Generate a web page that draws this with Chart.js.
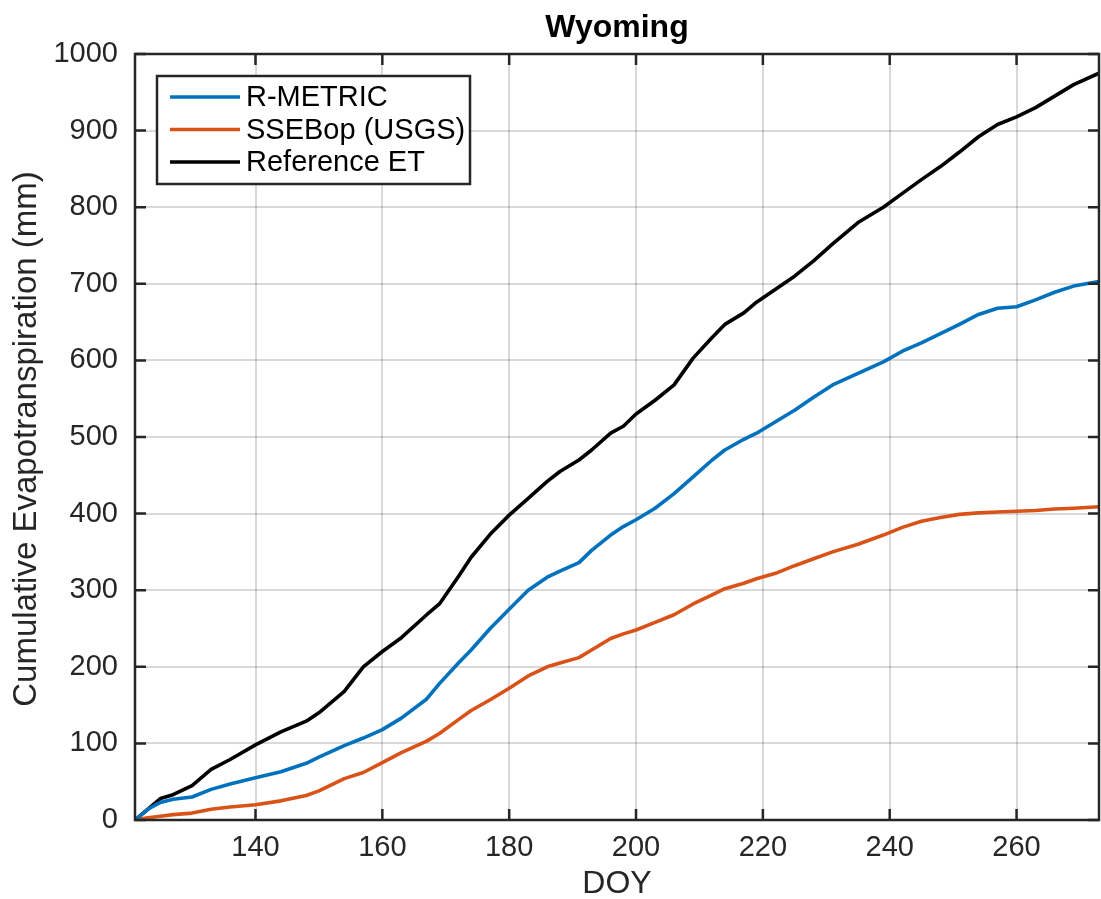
<!DOCTYPE html>
<html>
<head>
<meta charset="utf-8">
<title>Wyoming</title>
<script src="https://cdn.jsdelivr.net/npm/chart.js@4.4.1/dist/chart.umd.min.js"></script>
<style>
  body { margin: 0; background: #fff; }
  canvas { display: block; }
</style>
</head>
<body>
<canvas id="etChart" width="1101" height="899"></canvas>
<script>
const doy = [121, 123, 125, 127, 130, 133, 136, 140, 144, 148, 150, 154, 157, 160, 163, 167, 169, 172, 174, 177,
  180, 183, 186, 188, 191, 193, 196, 198, 200, 203, 206, 209, 212, 214, 217, 219, 222, 225, 228, 231,
  235, 239, 242, 245, 248, 251, 254, 257, 260, 263, 266, 269, 273];

const rMetric = [0, 14, 23, 27, 30, 40, 47, 55, 63, 74, 82, 97, 107, 118, 133, 158, 178, 205, 222, 250,
  275, 300, 317, 325, 336, 352, 372, 383, 392, 407, 426, 448, 470, 483, 497, 505, 520, 535, 552, 568,
  583, 598, 612, 623, 635, 647, 660, 668, 670, 679, 689, 697, 703];

const ssebop = [0, 3, 5, 7, 9, 14, 17, 20, 25, 32, 38, 54, 62, 75, 88, 103, 113, 131, 143, 157,
  172, 188, 200, 205, 212, 222, 237, 243, 248, 258, 268, 282, 294, 302, 309, 315, 322, 332, 341, 350,
  360, 372, 382, 390, 395, 399, 401, 402, 403, 404, 406, 407, 409];

const referenceET = [0, 14, 28, 33, 45, 66, 79, 98, 115, 129, 140, 168, 200, 220, 238, 268, 282, 318, 343, 373,
  398, 420, 442, 455, 470, 483, 505, 514, 530, 548, 568, 603, 630, 647, 662, 676, 693, 710, 730, 752,
  780, 800, 818, 836, 853, 872, 892, 908, 918, 930, 945, 960, 975];

const seriesNames = ["R-METRIC", "SSEBop (USGS)", "Reference ET"];
const xTicks = [140, 160, 180, 200, 220, 240, 260];
const yTicks = [0, 100, 200, 300, 400, 500, 600, 700, 800, 900, 1000];

const FONT = "'Liberation Sans', Arial, Helvetica, sans-serif";
const AXIS_COLOR = "#262626";

function points(ys) {
  return doy.map((d, i) => ({ x: d, y: ys[i] }));
}

// box, inward ticks, title, axis labels and legend drawn on top
const matlabLook = {
  id: "matlabLook",
  afterDraw(chart) {
    const c = chart.ctx;
    const a = chart.chartArea;
    const xs = chart.scales.x;
    const ys = chart.scales.y;
    c.save();

    c.strokeStyle = AXIS_COLOR;
    c.lineWidth = 2.5;
    c.beginPath();
    xTicks.forEach(t => {
      const px = xs.getPixelForValue(t);
      c.moveTo(px, a.bottom); c.lineTo(px, a.bottom - 11);
      c.moveTo(px, a.top); c.lineTo(px, a.top + 11);
    });
    yTicks.forEach(t => {
      const py = ys.getPixelForValue(t);
      c.moveTo(a.left, py); c.lineTo(a.left + 11, py);
      c.moveTo(a.right, py); c.lineTo(a.right - 11, py);
    });
    c.stroke();
    c.strokeRect(a.left, a.top, a.right - a.left, a.bottom - a.top);

    c.fillStyle = "#000";
    c.textAlign = "center";
    c.textBaseline = "middle";
    c.font = "bold 32px " + FONT;
    c.fillText("Wyoming", (a.left + a.right) / 2, 28);

    c.fillStyle = AXIS_COLOR;
    c.font = "32px " + FONT;
    c.fillText("DOY", (a.left + a.right) / 2, 884);
    c.font = "33px " + FONT;
    c.save();
    c.translate(27, (a.top + a.bottom) / 2 + 2);
    c.rotate(-Math.PI / 2);
    c.fillText("Cumulative Evapotranspiration (mm)", 0, 0);
    c.restore();

    // legend
    const lx = 157, ly = 76, lw = 313, lh = 108;
    c.fillStyle = "#fff";
    c.fillRect(lx, ly, lw, lh);
    c.strokeStyle = AXIS_COLOR;
    c.lineWidth = 2.5;
    c.strokeRect(lx, ly, lw, lh);
    c.textAlign = "left";
    c.font = "29px " + FONT;
    chart.data.datasets.forEach((ds, i) => {
      const rowY = 97 + i * 32.5;
      c.strokeStyle = ds.borderColor;
      c.lineWidth = 3.5;
      c.beginPath();
      c.moveTo(170, rowY); c.lineTo(240, rowY);
      c.stroke();
      c.fillStyle = "#000";
      c.fillText(ds.label, 246, rowY + 1);
    });
    c.restore();
  }
};

new Chart(document.getElementById("etChart"), {
  type: "line",
  data: {
    datasets: [
      { label: seriesNames[0], data: points(rMetric), borderColor: "#0072BD" },
      { label: seriesNames[1], data: points(ssebop), borderColor: "#D95319" },
      { label: seriesNames[2], data: points(referenceET), borderColor: "#000000" }
    ]
  },
  options: {
    responsive: false,
    animation: false,
    devicePixelRatio: 1,
    layout: { padding: { top: 54, right: 2, left: 0, bottom: 0 } },
    elements: {
      point: { radius: 0 },
      line: { borderWidth: 3.6, tension: 0, fill: false, borderJoinStyle: "round" }
    },
    plugins: {
      legend: { display: false },
      title: { display: false },
      tooltip: { enabled: false }
    },
    scales: {
      x: {
        type: "linear",
        min: 121,
        max: 273,
        afterBuildTicks: s => { s.ticks = xTicks.map(v => ({ value: v })); },
        afterFit: s => { s.height = 79; },
        grid: { color: "rgba(0,0,0,0.15)", lineWidth: 2, drawTicks: false },
        border: { display: false },
        ticks: { color: AXIS_COLOR, font: { family: FONT, size: 29 }, padding: 11, maxRotation: 0, callback: v => String(v) }
      },
      y: {
        min: 0,
        max: 1000,
        afterBuildTicks: s => { s.ticks = yTicks.map(v => ({ value: v })); },
        afterFit: s => { s.width = 135; },
        grid: { color: "rgba(0,0,0,0.15)", lineWidth: 2, drawTicks: false },
        border: { display: false },
        ticks: { color: AXIS_COLOR, font: { family: FONT, size: 29 }, padding: 17, callback: v => String(v) }
      }
    }
  },
  plugins: [matlabLook]
});
</script>
</body>
</html>
